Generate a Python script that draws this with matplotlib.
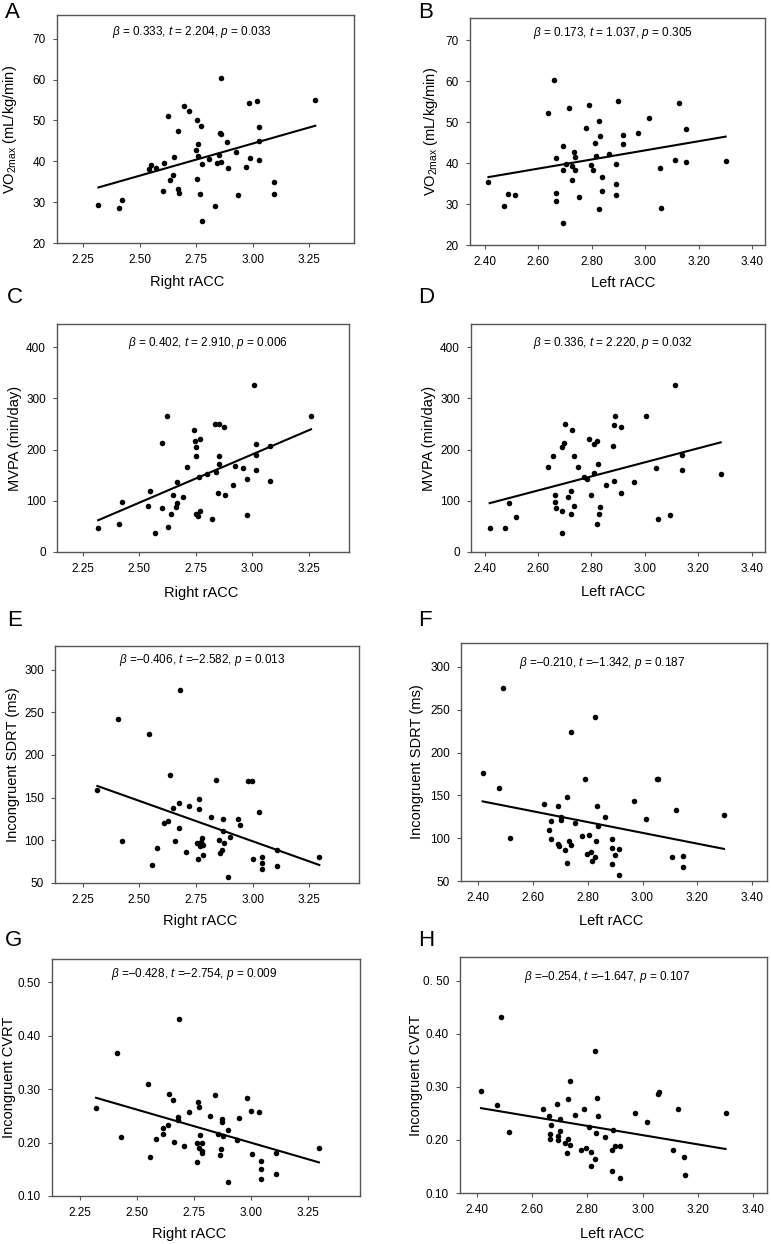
import matplotlib
matplotlib.use("Agg")
import matplotlib.pyplot as plt

plt.rcParams['font.family'] = 'Liberation Sans'
plt.rcParams['mathtext.fontset'] = 'custom'
plt.rcParams['mathtext.rm'] = 'Liberation Sans'
plt.rcParams['mathtext.it'] = 'Liberation Sans:italic'

# ---- data ----
# A: right rACC vs VO2max
a_x = [2.318, 2.409, 2.424, 2.543, 2.551, 2.574, 2.606, 2.603, 2.626, 2.632, 2.646, 2.651,
       2.671, 2.669, 2.674, 2.697, 2.716, 2.753, 2.771, 2.757, 2.749, 2.759, 2.754, 2.766,
       2.774, 2.775, 2.807, 2.832, 2.849, 2.843, 2.853, 2.860, 2.859, 2.860, 2.884, 2.890,
       2.925, 2.934, 2.968, 2.985, 2.988, 3.018, 3.028, 3.029, 3.029, 3.093, 3.093, 3.276]
a_y = [29.3, 28.6, 30.6, 38.2, 39.1, 38.4, 39.5, 32.7, 51.0, 35.3, 36.6, 41.1,
       47.4, 33.2, 32.3, 53.5, 52.3, 50.2, 48.7, 44.2, 42.7, 41.3, 35.7, 32.1,
       39.4, 25.4, 40.6, 29.0, 41.5, 39.6, 46.8, 46.6, 39.9, 60.4, 44.8, 38.3,
       42.3, 31.8, 38.7, 54.2, 40.8, 54.8, 48.3, 45.0, 40.3, 34.9, 32.0, 55.0]
a_fit = [33.6, 48.7]

# B: left rACC vs VO2max
b_x = [2.414, 2.472, 2.488, 2.514, 2.638, 2.659, 2.666, 2.667, 2.666, 2.691, 2.691, 2.702,
       2.694, 2.716, 2.726, 2.727, 2.732, 2.738, 2.738, 2.754, 2.778, 2.791, 2.797, 2.805,
       2.813, 2.814, 2.827, 2.829, 2.828, 2.837, 2.839, 2.865, 2.889, 2.889, 2.891, 2.899,
       2.918, 2.918, 2.971, 3.014, 3.053, 3.058, 3.109, 3.125, 3.151, 3.152, 3.300]
b_y = [35.3, 29.5, 32.5, 32.2, 52.3, 60.4, 41.2, 32.8, 30.8, 44.2, 38.4, 39.9,
       25.5, 53.5, 39.4, 35.8, 42.8, 41.5, 38.3, 31.8, 48.7, 54.2, 39.5, 38.3,
       45.0, 41.7, 50.2, 46.6, 28.7, 36.6, 33.2, 42.3, 35.0, 32.2, 39.7, 55.1,
       46.9, 44.8, 47.5, 51.1, 38.8, 29.1, 40.8, 54.8, 48.3, 40.4, 40.6]
b_fit = [36.6, 46.5]

# C: right rACC vs MVPA
c_x = [2.319, 2.409, 2.424, 2.539, 2.549, 2.572, 2.601, 2.603, 2.623, 2.629, 2.642, 2.648,
       2.664, 2.667, 2.667, 2.692, 2.710, 2.744, 2.749, 2.753, 2.753, 2.750, 2.760, 2.768,
       2.766, 2.769, 2.799, 2.824, 2.836, 2.853, 2.841, 2.847, 2.852, 2.852, 2.875, 2.878,
       2.917, 2.925, 2.958, 2.976, 2.977, 3.007, 3.017, 3.017, 3.017, 3.079, 3.080, 3.260]
c_y = [47.0, 54.2, 97.2, 90.7, 118.1, 37.8, 86.1, 212.1, 266.2, 48.3, 73.7, 111.6,
       87.4, 95.3, 137.0, 108.3, 165.1, 237.5, 216.6, 204.2, 187.3, 74.4, 70.5, 219.9,
       146.2, 79.6, 152.7, 64.6, 249.3, 249.9, 156.0, 115.5, 186.6, 171.0, 244.7, 110.9,
       131.2, 167.0, 163.1, 142.3, 73.1, 326.9, 210.8, 189.9, 159.2, 206.9, 139.0, 264.9]
c_fit = [62.0, 239.5]

# D: left rACC vs MVPA
d_x = [2.419, 2.475, 2.491, 2.517, 2.638, 2.657, 2.664, 2.664, 2.666, 2.689, 2.690, 2.690,
       2.699, 2.701, 2.712, 2.722, 2.723, 2.728, 2.735, 2.735, 2.751, 2.774, 2.784, 2.792,
       2.800, 2.808, 2.810, 2.820, 2.823, 2.822, 2.832, 2.829, 2.856, 2.881, 2.883, 2.885,
       2.890, 2.909, 2.909, 2.961, 3.004, 3.041, 3.048, 3.095, 3.113, 3.138, 3.139, 3.284]
d_y = [47.6, 46.3, 95.3, 69.2, 165.1, 186.6, 111.6, 97.2, 85.5, 204.2, 80.3, 37.8,
       212.1, 249.9, 107.7, 118.1, 74.4, 237.5, 187.3, 90.0, 166.4, 146.8, 142.3, 219.9,
       110.9, 210.8, 154.6, 216.0, 171.0, 54.2, 87.4, 74.4, 131.2, 206.9, 139.0, 248.6,
       264.9, 244.0, 115.5, 137.0, 266.2, 163.1, 64.6, 72.4, 326.9, 189.9, 159.2, 152.0]
d_fit = [95.3, 214.0]

# E: right rACC vs incongruent SDRT
e_x = [2.315, 2.407, 2.424, 2.543, 2.554, 2.576, 2.607, 2.628, 2.635, 2.649, 2.656, 2.674,
       2.676, 2.679, 2.704, 2.721, 2.756, 2.759, 2.762, 2.765, 2.769, 2.774, 2.778, 2.781,
       2.782, 2.815, 2.840, 2.851, 2.857, 2.863, 2.868, 2.871, 2.872, 2.893, 2.899, 2.935,
       2.944, 2.978, 2.997, 3.000, 3.029, 3.043, 3.043, 3.043, 3.106, 3.106, 3.294]
e_y = [158.6, 242.2, 99.6, 225.0, 71.1, 91.4, 120.3, 122.3, 176.2, 137.5, 98.8, 114.5,
       144.1, 275.8, 85.9, 139.8, 96.9, 78.5, 148.8, 137.1, 93.0, 97.7, 102.3, 82.4,
       94.1, 127.0, 170.3, 100.0, 84.8, 88.3, 124.6, 110.5, 96.9, 57.4, 103.9, 125.4,
       117.6, 169.1, 169.9, 78.5, 133.2, 80.1, 73.0, 66.8, 89.1, 69.9, 80.9]
e_fit = [163.7, 71.1]

# F: left rACC vs incongruent SDRT
f_x = [2.417, 2.475, 2.491, 2.517, 2.639, 2.659, 2.668, 2.666, 2.691, 2.693, 2.694, 2.702,
       2.702, 2.717, 2.726, 2.725, 2.731, 2.739, 2.740, 2.754, 2.778, 2.789, 2.797, 2.805,
       2.812, 2.814, 2.827, 2.829, 2.826, 2.835, 2.838, 2.863, 2.890, 2.887, 2.889, 2.898,
       2.916, 2.916, 2.970, 3.013, 3.052, 3.058, 3.106, 3.123, 3.148, 3.148, 3.297]
f_y = [176.2, 158.2, 275.8, 100.4, 139.5, 109.8, 119.9, 98.8, 137.1, 93.8, 90.6, 124.6,
       121.1, 85.9, 148.4, 70.7, 96.9, 92.6, 224.2, 117.6, 102.0, 169.5, 81.6, 103.5,
       84.0, 73.0, 78.5, 96.5, 241.8, 137.1, 114.1, 124.6, 99.2, 88.7, 69.5, 80.1,
       87.5, 56.6, 143.4, 121.9, 168.8, 169.5, 78.5, 133.2, 79.7, 66.4, 126.6]
f_fit = [143.0, 87.5]

# G: right rACC vs incongruent CVRT
g_x = [2.320, 2.413, 2.429, 2.548, 2.558, 2.581, 2.611, 2.613, 2.635, 2.640, 2.655, 2.661,
       2.677, 2.677, 2.683, 2.707, 2.725, 2.761, 2.762, 2.765, 2.770, 2.772, 2.777, 2.783,
       2.783, 2.786, 2.817, 2.842, 2.855, 2.861, 2.867, 2.873, 2.873, 2.874, 2.896, 2.900,
       2.938, 2.945, 2.981, 3.000, 3.002, 3.032, 3.044, 3.044, 3.044, 3.108, 3.108, 3.296]
g_y = [0.264, 0.367, 0.211, 0.310, 0.174, 0.206, 0.227, 0.216, 0.233, 0.291, 0.279, 0.201,
       0.248, 0.243, 0.431, 0.194, 0.258, 0.200, 0.163, 0.277, 0.266, 0.190, 0.214, 0.184,
       0.181, 0.199, 0.249, 0.290, 0.217, 0.176, 0.188, 0.244, 0.239, 0.212, 0.126, 0.223,
       0.204, 0.246, 0.284, 0.259, 0.179, 0.258, 0.166, 0.150, 0.132, 0.180, 0.141, 0.189]
g_fit = [0.284, 0.163]

# H: left rACC vs incongruent CVRT
h_x = [2.416, 2.475, 2.490, 2.517, 2.639, 2.660, 2.668, 2.666, 2.666, 2.692, 2.695, 2.695,
       2.703, 2.702, 2.718, 2.729, 2.727, 2.732, 2.739, 2.739, 2.756, 2.779, 2.790, 2.797,
       2.807, 2.814, 2.815, 2.827, 2.830, 2.828, 2.837, 2.839, 2.864, 2.893, 2.890, 2.890,
       2.902, 2.919, 2.917, 2.972, 3.015, 3.055, 3.058, 3.109, 3.127, 3.151, 3.152, 3.300]
h_y = [0.292, 0.266, 0.432, 0.215, 0.259, 0.245, 0.228, 0.212, 0.202, 0.267, 0.208, 0.200,
       0.239, 0.217, 0.195, 0.278, 0.175, 0.201, 0.191, 0.311, 0.247, 0.182, 0.259, 0.185,
       0.224, 0.177, 0.151, 0.368, 0.213, 0.165, 0.280, 0.245, 0.205, 0.218, 0.181, 0.142,
       0.189, 0.189, 0.128, 0.250, 0.234, 0.286, 0.291, 0.181, 0.259, 0.168, 0.133, 0.251]
h_fit = [0.260, 0.183]

right_ticks = [2.25, 2.50, 2.75, 3.00, 3.25]
left_ticks = [2.40, 2.60, 2.80, 3.00, 3.20, 3.40]
vo2_ticks = [20, 30, 40, 50, 60, 70]
mvpa_ticks = [0, 100, 200, 300, 400]
sdrt_ticks = [50, 100, 150, 200, 250, 300]
cvrt_ticks = [0.10, 0.20, 0.30, 0.40, 0.50]
cvrt_labels_h = ['0.10', '0.20', '0.30', '0.40', '0. 50']

vo2_label = r'VO$_{\mathregular{2max}}$ (mL/kg/min)'
stats = {
    'A': r'$\it{\beta}$ = 0.333, $\it{t}$ = 2.204, $\it{p}$ = 0.033',
    'B': r'$\it{\beta}$ = 0.173, $\it{t}$ = 1.037, $\it{p}$ = 0.305',
    'C': r'$\it{\beta}$ = 0.402, $\it{t}$ = 2.910, $\it{p}$ = 0.006',
    'D': r'$\it{\beta}$ = 0.336, $\it{t}$ = 2.220, $\it{p}$ = 0.032',
    'E': '$\\it{\\beta}$ =\u20130.406, $\\it{t}$ =\u20132.582, $\\it{p}$ = 0.013',
    'F': '$\\it{\\beta}$ =\u20130.210, $\\it{t}$ =\u20131.342, $\\it{p}$ = 0.187',
    'G': '$\\it{\\beta}$ =\u20130.428, $\\it{t}$ =\u20132.754, $\\it{p}$ = 0.009',
    'H': '$\\it{\\beta}$ =\u20130.254, $\\it{t}$ =\u20131.647, $\\it{p}$ = 0.107',
}

W, H = 771, 1244
fig = plt.figure(figsize=(W / 100, H / 100), dpi=100)

# letter, x, y, fit, box(l, r, t, b px), xlim, ylim, xticks, yticks, ytick labels,
# xlabel, ylabel, stat pos, letter pos, xlabel pos, ylabel x
panels = [
    ('A', a_x, a_y, a_fit, (57, 354, 15, 243), (2.135, 3.447), (20, 75.8), right_ticks, vo2_ticks, None,
     'Right rACC', vo2_label, (192, 32), (5, 5), (187, 282), 10),
    ('B', b_x, b_y, b_fit, (470, 765, 18, 245), (2.345, 3.447), (20, 75.5), left_ticks, vo2_ticks, None,
     'Left rACC', vo2_label, (613, 33), (418, 5), (623, 283), 431),
    ('C', c_x, c_y, c_fit, (57, 349, 324, 552), (2.137, 3.428), (0, 445), right_ticks, mvpa_ticks, None,
     'Right rACC', 'MVPA (min/day)', (208, 343), (7, 290), (201, 593), 15),
    ('D', d_x, d_y, d_fit, (471, 765, 324, 552), (2.349, 3.45), (0, 445), left_ticks, mvpa_ticks, None,
     'Left rACC', 'MVPA (min/day)', (613, 343), (418, 290), (613, 592), 429),
    ('E', e_x, e_y, e_fit, (55, 359, 646, 883), (2.128, 3.469), (50, 327.7), right_ticks, sdrt_ticks, None,
     'Right rACC', 'Incongruent SDRT (ms)', (202, 660), (7, 613), (200, 921), 13),
    ('F', f_x, f_y, f_fit, (461, 767, 643, 881), (2.338, 3.454), (50, 328), left_ticks, sdrt_ticks, None,
     'Left rACC', 'Incongruent SDRT (ms)', (602, 663), (418, 613), (611, 921), 417),
    ('G', g_x, g_y, g_fit, (52, 360, 959, 1196), (2.127, 3.476), (0.10, 0.544), right_ticks, cvrt_ticks, None,
     'Right rACC', 'Incongruent CVRT', (194, 974), (5, 933), (189, 1234), 9),
    ('H', h_x, h_y, h_fit, (460, 767, 957, 1193), (2.34, 3.45), (0.10, 0.545), left_ticks, cvrt_ticks, cvrt_labels_h,
     'Left rACC', 'Incongruent CVRT', (607, 977), (418, 933), (612, 1234), 416),
]

edge = '#555555'

for (letter, xs, ys, fit, box, xlim, ylim, xt, yt, ytl, xlab, ylab, spos, lpos, xlpos, ylx) in panels:
    l, r, t, b = box
    ax = fig.add_axes([l / W, 1 - b / H, (r - l) / W, (b - t) / H])
    ax.scatter(xs, ys, s=16, color='black', linewidths=0, zorder=3)
    ax.plot([min(xs), max(xs)], fit, color='black', lw=1.5, zorder=2)
    ax.set_xlim(xlim)
    ax.set_ylim(ylim)
    ax.set_xticks(xt)
    ax.set_xticklabels(['%.2f' % v for v in xt])
    ax.set_yticks(yt)
    if ytl is not None:
        ax.set_yticklabels(ytl)
    elif isinstance(yt[0], float):
        ax.set_yticklabels(['%.2f' % v for v in yt])
    for s in ax.spines.values():
        s.set_color(edge)
        s.set_linewidth(1.0)
    ax.tick_params(direction='out', length=3, width=0.8, color=edge, labelsize=8.5,
                   labelcolor='black')
    ax.tick_params(axis='x', pad=5)
    ax.tick_params(axis='y', pad=5)

    # axis labels placed where they sit in the original
    ax.set_xlabel(xlab, fontsize=10.5, va='center')
    ax.xaxis.set_label_coords((xlpos[0] - l) / (r - l), (b - xlpos[1]) / (b - t))
    ax.set_ylabel(ylab, fontsize=10.5, va='center')
    ax.yaxis.set_label_coords((ylx - l) / (r - l), 0.5)

    fig.text(spos[0] / W, 1 - spos[1] / H, stats[letter], fontsize=8.5, ha='center', va='center')
    fig.text(lpos[0] / W, 1 - (lpos[1] - 3) / H, letter, fontsize=16, ha='left', va='top')

fig.savefig('out.png', dpi=100)
